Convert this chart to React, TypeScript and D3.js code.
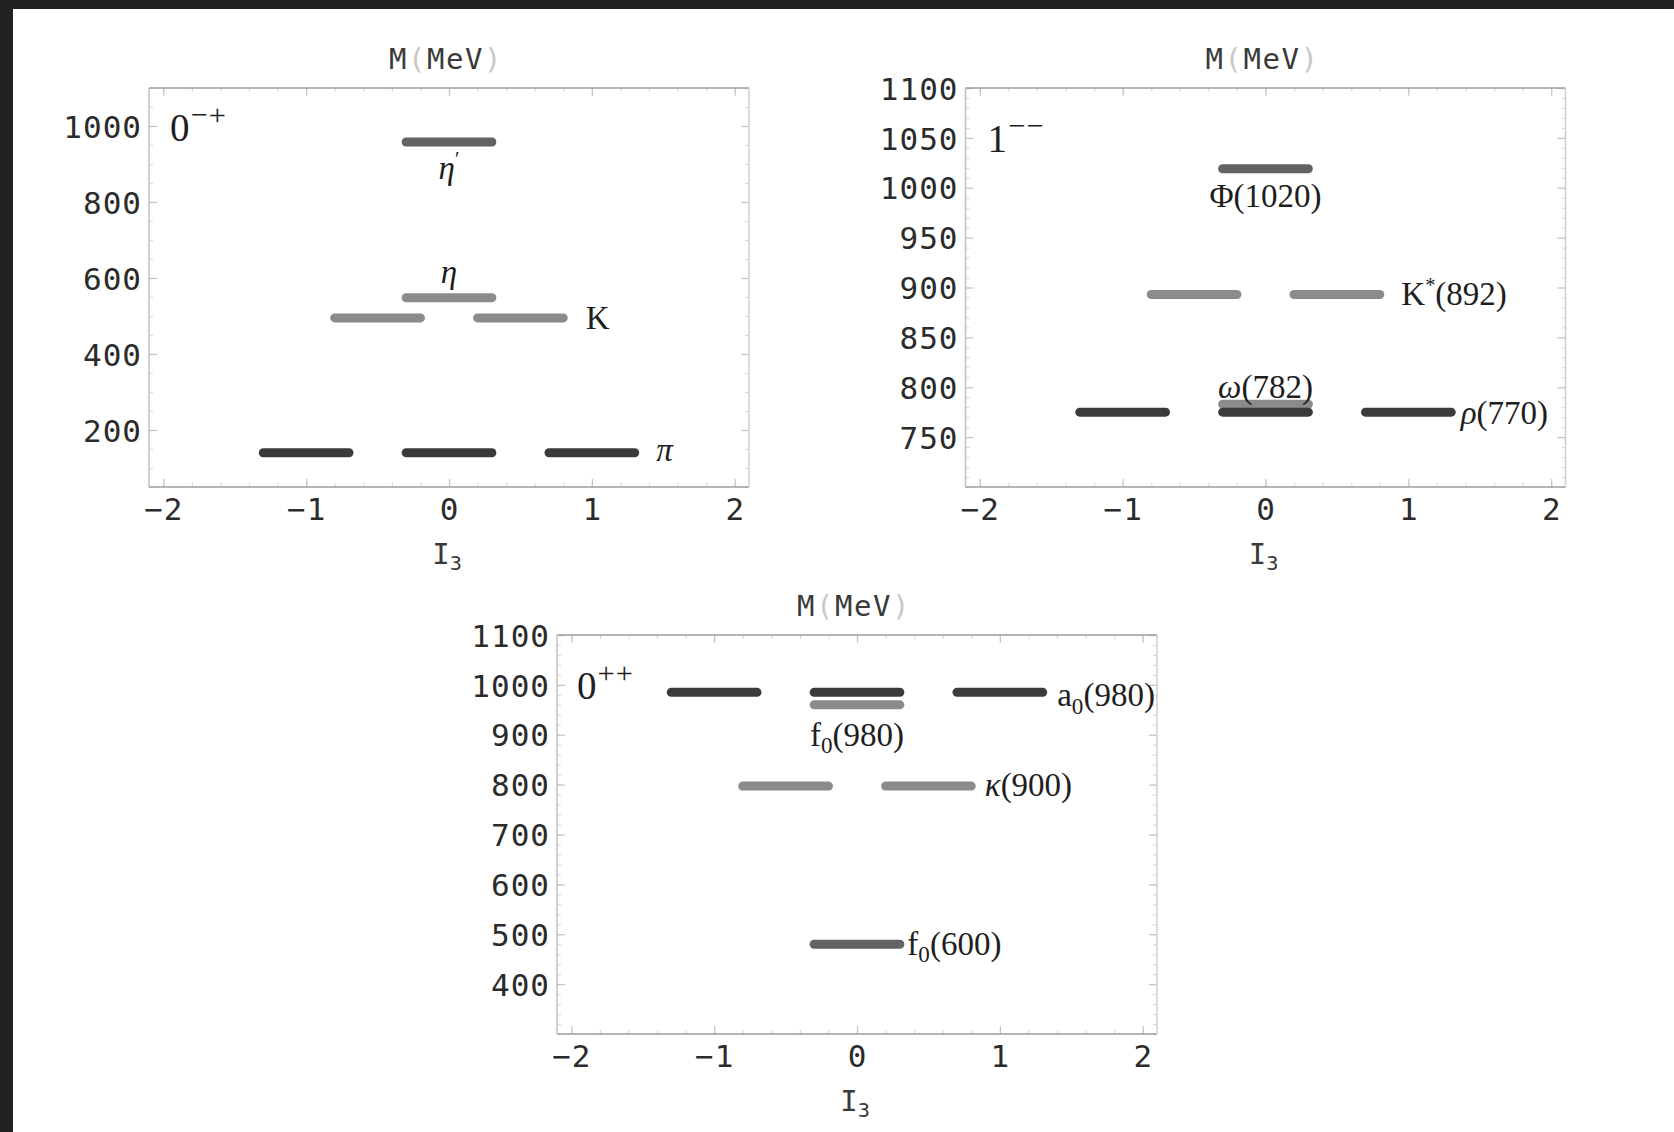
import React, { useEffect, useRef } from 'react';
import * as d3 from 'd3';

// isospin axis (shared)
const i3Domain = [-2.1, 2.1];
const i3Ticks = [-2, -1, 0, 1, 2];

// 0-+ pseudoscalar mesons
const psNames = ['π', 'K', 'η', 'η^′'];
const psMasses = [140, 495, 548, 958];
const psI3 = [[-1, 0, 1], [-0.5, 0.5], [0], [0]];
const psMassRange = [50, 1100];
const psTicks = [200, 400, 600, 800, 1000];

// 1-- vector mesons (omega first so rho sits on top of it)
const vNames = ['ω(782)', 'ρ(770)', 'K^*(892)', 'Φ(1020)'];
const vMasses = [783, 775, 893, 1019];
const vI3 = [[0], [-1, 0, 1], [-0.5, 0.5], [0]];
const vMassRange = [700, 1100];
const vTicks = [750, 800, 850, 900, 950, 1000, 1050, 1100];

// 0++ scalar mesons
const sNames = ['f_0(600)', 'κ(900)', 'f_0(980)', 'a_0(980)'];
const sMasses = [480, 797, 960, 985];
const sI3 = [[0], [-0.5, 0.5], [0], [-1, 0, 1]];
const sMassRange = [300, 1100];
const sTicks = [400, 500, 600, 700, 800, 900, 1000, 1100];

const W = 600;
const H = 399;
const HALF = 0.3; // half length of a level bar in I3 units
const SHADE = { dark: '#3b3b3b', mid: '#636363', light: '#8b8b8b' };
const MONO = 'DejaVu Sans Mono, monospace';
const SERIF = 'Liberation Serif, Times New Roman, serif';

const panels = [
  {
    tag: '0^−^+', names: psNames, masses: psMasses, i3: psI3, range: psMassRange, ticks: psTicks, minor: 20,
    left: 149, top: 88, tagDx: 21, tagDy: 53,
    shades: ['dark', 'light', 'light', 'mid'],
    place: ['right', 'right', 'above', 'below'],
    gap: [17, 18, 0, 0], dy: [8, 11, -15, 37],
  },
  {
    tag: '1^−^−', names: vNames, masses: vMasses, i3: vI3, range: vMassRange, ticks: vTicks, minor: 40,
    left: 965.5, top: 88, tagDx: 22, tagDy: 64,
    shades: ['light', 'dark', 'light', 'mid'],
    place: ['above', 'right', 'right', 'below'],
    gap: [0, 5, 17, 0], dy: [-6, 12, 11, 38],
  },
  {
    tag: '0^+^+', names: sNames, masses: sMasses, i3: sI3, range: sMassRange, ticks: sTicks, minor: 40,
    left: 557, top: 635, tagDx: 20, tagDy: 64,
    shades: ['mid', 'light', 'light', 'dark'],
    place: ['right', 'right', 'below', 'right'],
    gap: [3, 9, 0, 10], dy: [11, 10, 41, 14],
  },
];

// text with _x subscripts, ^x superscripts and italic greek letters
function rich(text, str, size, supScale = 0.62) {
  const parts = str.split(/([_^].|[α-ω])/).filter(s => s);
  let shift = 0;
  parts.forEach(part => {
    let t = part;
    let fs = size;
    let target = 0;
    if (part.length === 2 && part[0] === '_') { t = part[1]; fs = size * 0.7; target = size * 0.22; }
    else if (part.length === 2 && part[0] === '^') { t = part[1]; fs = size * supScale; target = -size * 0.4; }
    const ts = text.append('tspan').attr('font-size', fs).attr('dy', target - shift).text(t);
    if (/[α-ω]/.test(t)) ts.attr('font-style', 'italic');
    shift = target;
  });
}

function drawPanel(svg, p) {
  const x = d3.scaleLinear().domain(i3Domain).range([0, W]);
  const y = d3.scaleLinear().domain(p.range).range([H, 0]);
  const g = svg.append('g').attr('transform', `translate(${p.left},${p.top})`);

  // frame ticks, pointing inward
  const inner = (axis, tr, vals, len, col) => g.append('g')
    .attr('transform', tr)
    .call(axis.tickValues(vals).tickSize(-len).tickFormat(() => ''))
    .call(a => a.select('.domain').remove())
    .call(a => a.selectAll('line').attr('stroke', col).attr('stroke-width', 1.2));
  const minorX = x.ticks(20);
  const minorY = y.ticks(p.minor);
  const minorCol = '#dadada';
  const majorCol = '#c4c4c4';
  inner(d3.axisBottom(x), `translate(0,${H})`, minorX, 4, minorCol);
  inner(d3.axisBottom(x), `translate(0,${H})`, i3Ticks, 8, majorCol);
  inner(d3.axisTop(x), 'translate(0,0)', minorX, 4, minorCol);
  inner(d3.axisTop(x), 'translate(0,0)', i3Ticks, 8, majorCol);
  inner(d3.axisLeft(y), 'translate(0,0)', minorY, 4, minorCol);
  inner(d3.axisLeft(y), 'translate(0,0)', p.ticks, 8, majorCol);
  inner(d3.axisRight(y), `translate(${W},0)`, minorY, 4, minorCol);
  inner(d3.axisRight(y), `translate(${W},0)`, p.ticks, 8, majorCol);

  // frame
  const frame = [
    [0, 0, W, 0, '#9c9c9c'],
    [0, H, W, H, '#9c9c9c'],
    [0, 0, 0, H, '#c4c4c4'],
    [W, 0, W, H, '#d2d2d2'],
  ];
  g.selectAll('line.frame').data(frame).join('line')
    .attr('class', 'frame')
    .attr('x1', d => d[0]).attr('y1', d => d[1]).attr('x2', d => d[2]).attr('y2', d => d[3])
    .attr('stroke', d => d[4]).attr('stroke-width', 1.6);

  // tick labels
  const styleLabels = a => {
    a.select('.domain').remove();
    a.attr('font-family', MONO).attr('font-size', 31);
    a.selectAll('text').attr('fill', '#2b2b2b').attr('letter-spacing', 1);
  };
  g.append('g')
    .attr('transform', `translate(0,${H})`)
    .call(d3.axisBottom(x).tickValues(i3Ticks).tickSize(0).tickPadding(11)
      .tickFormat(d => (d < 0 ? '−' + Math.abs(d) : String(d))))
    .call(styleLabels);
  g.append('g')
    .call(d3.axisLeft(y).tickValues(p.ticks).tickSize(0).tickPadding(7).tickFormat(d => String(d)))
    .call(styleLabels)
    .call(a => a.selectAll('text').attr('dy', '0.36em'));

  // axis titles
  const title = g.append('text')
    .attr('x', x(0) - 3).attr('y', -19)
    .attr('text-anchor', 'middle')
    .attr('font-family', MONO).attr('font-size', 29).attr('letter-spacing', 1.5)
    .attr('fill', '#3a3a3a');
  title.append('tspan').text('M');
  title.append('tspan').attr('fill', '#c8c8c8').text('(');
  title.append('tspan').text('MeV');
  title.append('tspan').attr('fill', '#c8c8c8').text(')');

  const xt = g.append('text')
    .attr('x', x(0) - 2).attr('y', H + 77)
    .attr('text-anchor', 'middle')
    .attr('font-family', MONO).attr('fill', '#3a3a3a');
  rich(xt, 'I_3', 29);

  // level bars
  const levels = p.names.map((name, i) => ({
    name, m: p.masses[i], i3: p.i3[i],
    shade: SHADE[p.shades[i]], place: p.place[i], gap: p.gap[i], dy: p.dy[i],
  }));
  const bars = levels.flatMap(l => l.i3.map(c => ({ ...l, c })));
  g.selectAll('line.bar').data(bars).join('line')
    .attr('class', 'bar')
    .attr('x1', d => x(d.c - HALF)).attr('x2', d => x(d.c + HALF))
    .attr('y1', d => y(d.m)).attr('y2', d => y(d.m))
    .attr('stroke', d => d.shade)
    .attr('stroke-width', 9)
    .attr('stroke-linecap', 'round');

  // level labels
  levels.forEach(l => {
    const right = l.place === 'right';
    const lx = right ? x(d3.max(l.i3) + HALF) + 4.5 + l.gap : x(d3.mean(l.i3));
    const t = g.append('text')
      .attr('x', lx).attr('y', y(l.m) + l.dy)
      .attr('text-anchor', right ? 'start' : 'middle')
      .attr('font-family', SERIF).attr('fill', '#1e1e1e');
    rich(t, l.name, 33);
  });

  // multiplet tag
  const tag = g.append('text')
    .attr('x', p.tagDx).attr('y', p.tagDy)
    .attr('font-family', SERIF).attr('fill', '#1e1e1e')
    .attr('letter-spacing', 1);
  rich(tag, p.tag, 39, 0.78);
}

export default function App() {
  const svgRef = useRef(null);

  useEffect(() => {
    const svg = d3.select(svgRef.current);
    svg.selectAll('*').remove();
    svg.append('rect').attr('width', 1674).attr('height', 1132).attr('fill', '#ffffff');
    svg.append('rect').attr('width', 1674).attr('height', 9).attr('fill', '#222222');
    svg.append('rect').attr('width', 13).attr('height', 1132).attr('fill', '#222222');
    panels.forEach(p => drawPanel(svg, p));
  }, []);

  return (
    <div style={{ position: 'absolute', left: 0, top: 0 }}>
      <svg ref={svgRef} width={1674} height={1132} style={{ display: 'block' }}></svg>
    </div>
  );
}
